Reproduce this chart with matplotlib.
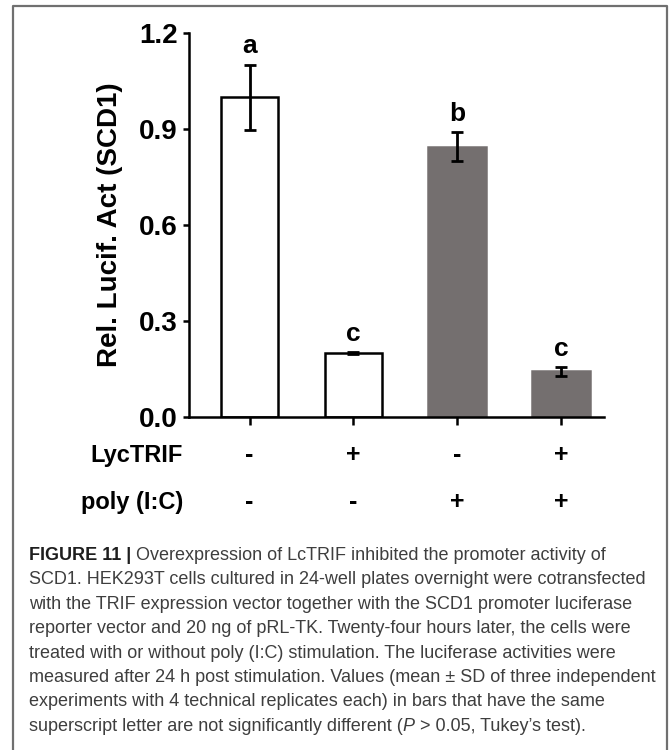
import matplotlib
matplotlib.use("Agg")
import matplotlib.pyplot as plt
import matplotlib.transforms as mtransforms
from matplotlib.lines import Line2D
import numpy as np

# ---------------- data ----------------
lyctrif_signs = ['-', '+', '-', '+']
polyic_signs = ['-', '-', '+', '+']
means = [1.00, 0.20, 0.845, 0.142]
sds = [0.102, 0.003, 0.046, 0.014]
letters = ['a', 'c', 'b', 'c']
yticks = [0.0, 0.3, 0.6, 0.9, 1.2]
row_labels = ['LycTRIF', 'poly (I:C)']
ylabel = 'Rel. Lucif. Act (SCD1)'
caption_lines = [
    "Overexpression of LcTRIF inhibited the promoter activity of",
    "SCD1. HEK293T cells cultured in 24-well plates overnight were cotransfected",
    "with the TRIF expression vector together with the SCD1 promoter luciferase",
    "reporter vector and 20 ng of pRL-TK. Twenty-four hours later, the cells were",
    "treated with or without poly (I:C) stimulation. The luciferase activities were",
    "measured after 24 h post stimulation. Values (mean \u00b1 SD of three independent",
    "experiments with 4 technical replicates each) in bars that have the same",
]
caption_title = "FIGURE 11 |"
caption_last = ["superscript letter are not significantly different (", "P",
                "> 0.05, Tukey\u2019s test)."]

# ---------------- style ----------------
W, H = 669, 750
face_colors = ['white', 'white', '#746f6f', '#746f6f']
edge_colors = ['black', 'black', '#746f6f', '#746f6f']
SANS = 'Liberation Sans'
plt.rcParams['font.family'] = [SANS, 'DejaVu Sans']

fig = plt.figure(figsize=(W / 100, H / 100), dpi=100)
fig.patch.set_facecolor('white')

def fx(px):
    return px / W

def fy(py):
    return 1 - py / H

ax = fig.add_axes([fx(189.3), fy(416.7), fx(603.7) - fx(189.3), fy(33.3) - fy(416.7)])
x = np.arange(len(means))
ax.bar(x, means, width=0.555, color=face_colors, edgecolor=edge_colors,
       linewidth=1.8, zorder=2)
ax.errorbar(x, means, yerr=sds, fmt='none', ecolor='black', elinewidth=2.0,
            capsize=4, capthick=2.0, zorder=3)
for xi, m, s, let in zip(x, means, sds, letters):
    ax.annotate(let, xy=(xi, m + s), xytext=(0, 8), textcoords='offset points',
                ha='center', va='baseline', fontsize=19, fontweight='bold',
                family=SANS)

ax.set_xlim(-0.58, 3.41)
ax.set_ylim(0, 1.2)
ax.set_yticks(yticks)
ax.set_yticklabels(['%.1f' % v for v in yticks])
ax.set_xticks(x)
ax.set_xticklabels([''] * len(x))
for sp in ['top', 'right']:
    ax.spines[sp].set_visible(False)
for sp in ['left', 'bottom']:
    ax.spines[sp].set_linewidth(1.8)
ax.tick_params(axis='y', direction='out', length=4.5, width=1.8, pad=4,
               labelsize=20)
ax.tick_params(axis='x', direction='out', length=6, width=1.8)
for lab in ax.get_yticklabels():
    lab.set_fontweight('bold')
ax.set_ylabel(ylabel, fontsize=20, fontweight='bold', labelpad=11)

# row labels and +/- signs
blend = mtransforms.blended_transform_factory(ax.transData, fig.transFigure)
row_baselines = [462, 509]
for lab, signs, yb in zip(row_labels, [lyctrif_signs, polyic_signs], row_baselines):
    fig.text(fx(183), fy(yb), lab, ha='right', va='baseline', fontsize=17,
             fontweight='bold')
    for xi, s in zip(x, signs):
        ax.text(xi, fy(yb), s, transform=blend, ha='center', va='baseline',
                fontsize=18, fontweight='bold', clip_on=False)

# frame
fig.add_artist(Line2D([fx(13.3), fx(13.3), fx(666.5), fx(666.5)],
                      [0, fy(6), fy(6), 0], transform=fig.transFigure,
                      color='#707070', lw=1.6))

# caption
cap_font = SANS
renderer = fig.canvas.get_renderer()
probe = fig.text(0, 0, caption_lines[1], fontsize=12, family=cap_font)
wpx = probe.get_window_extent(renderer).width
probe.remove()
cap_size = min(13.0, 12 * 617.0 / wpx)
space_pt = 0.278 * cap_size
cap_color = '#3e3e3e'

axc = fig.add_axes([0, 0, 1, 1], zorder=-1)
axc.axis('off')

y0, dy = 560, 24.4
x0 = fx(28.6)
t = axc.text(x0, fy(y0), caption_title, transform=fig.transFigure, ha='left',
             va='baseline', fontsize=cap_size, fontweight='bold',
             family=cap_font, color='#1e1e1e')
axc.annotate(caption_lines[0], xy=(1, 0), xycoords=t, xytext=(space_pt, 0),
             textcoords='offset points', ha='left', va='bottom',
             fontsize=cap_size, family=cap_font, color=cap_color)
for i, line in enumerate(caption_lines[1:], start=1):
    axc.text(x0, fy(y0 + i * dy), line, transform=fig.transFigure, ha='left',
             va='baseline', fontsize=cap_size, family=cap_font, color=cap_color)
yl = y0 + len(caption_lines) * dy
t1 = axc.text(x0, fy(yl), caption_last[0], transform=fig.transFigure,
              ha='left', va='baseline', fontsize=cap_size, family=cap_font,
              color=cap_color)
t2 = axc.annotate(caption_last[1], xy=(1, 0), xycoords=t1, xytext=(0.3, 0),
                  textcoords='offset points', ha='left', va='bottom',
                  fontsize=cap_size, family=cap_font, style='italic',
                  color=cap_color)
axc.annotate(caption_last[2], xy=(1, 0), xycoords=t2, xytext=(space_pt, 0),
             textcoords='offset points', ha='left', va='bottom',
             fontsize=cap_size, family=cap_font, color=cap_color)

fig.savefig('out.png', dpi=100, facecolor='white')
